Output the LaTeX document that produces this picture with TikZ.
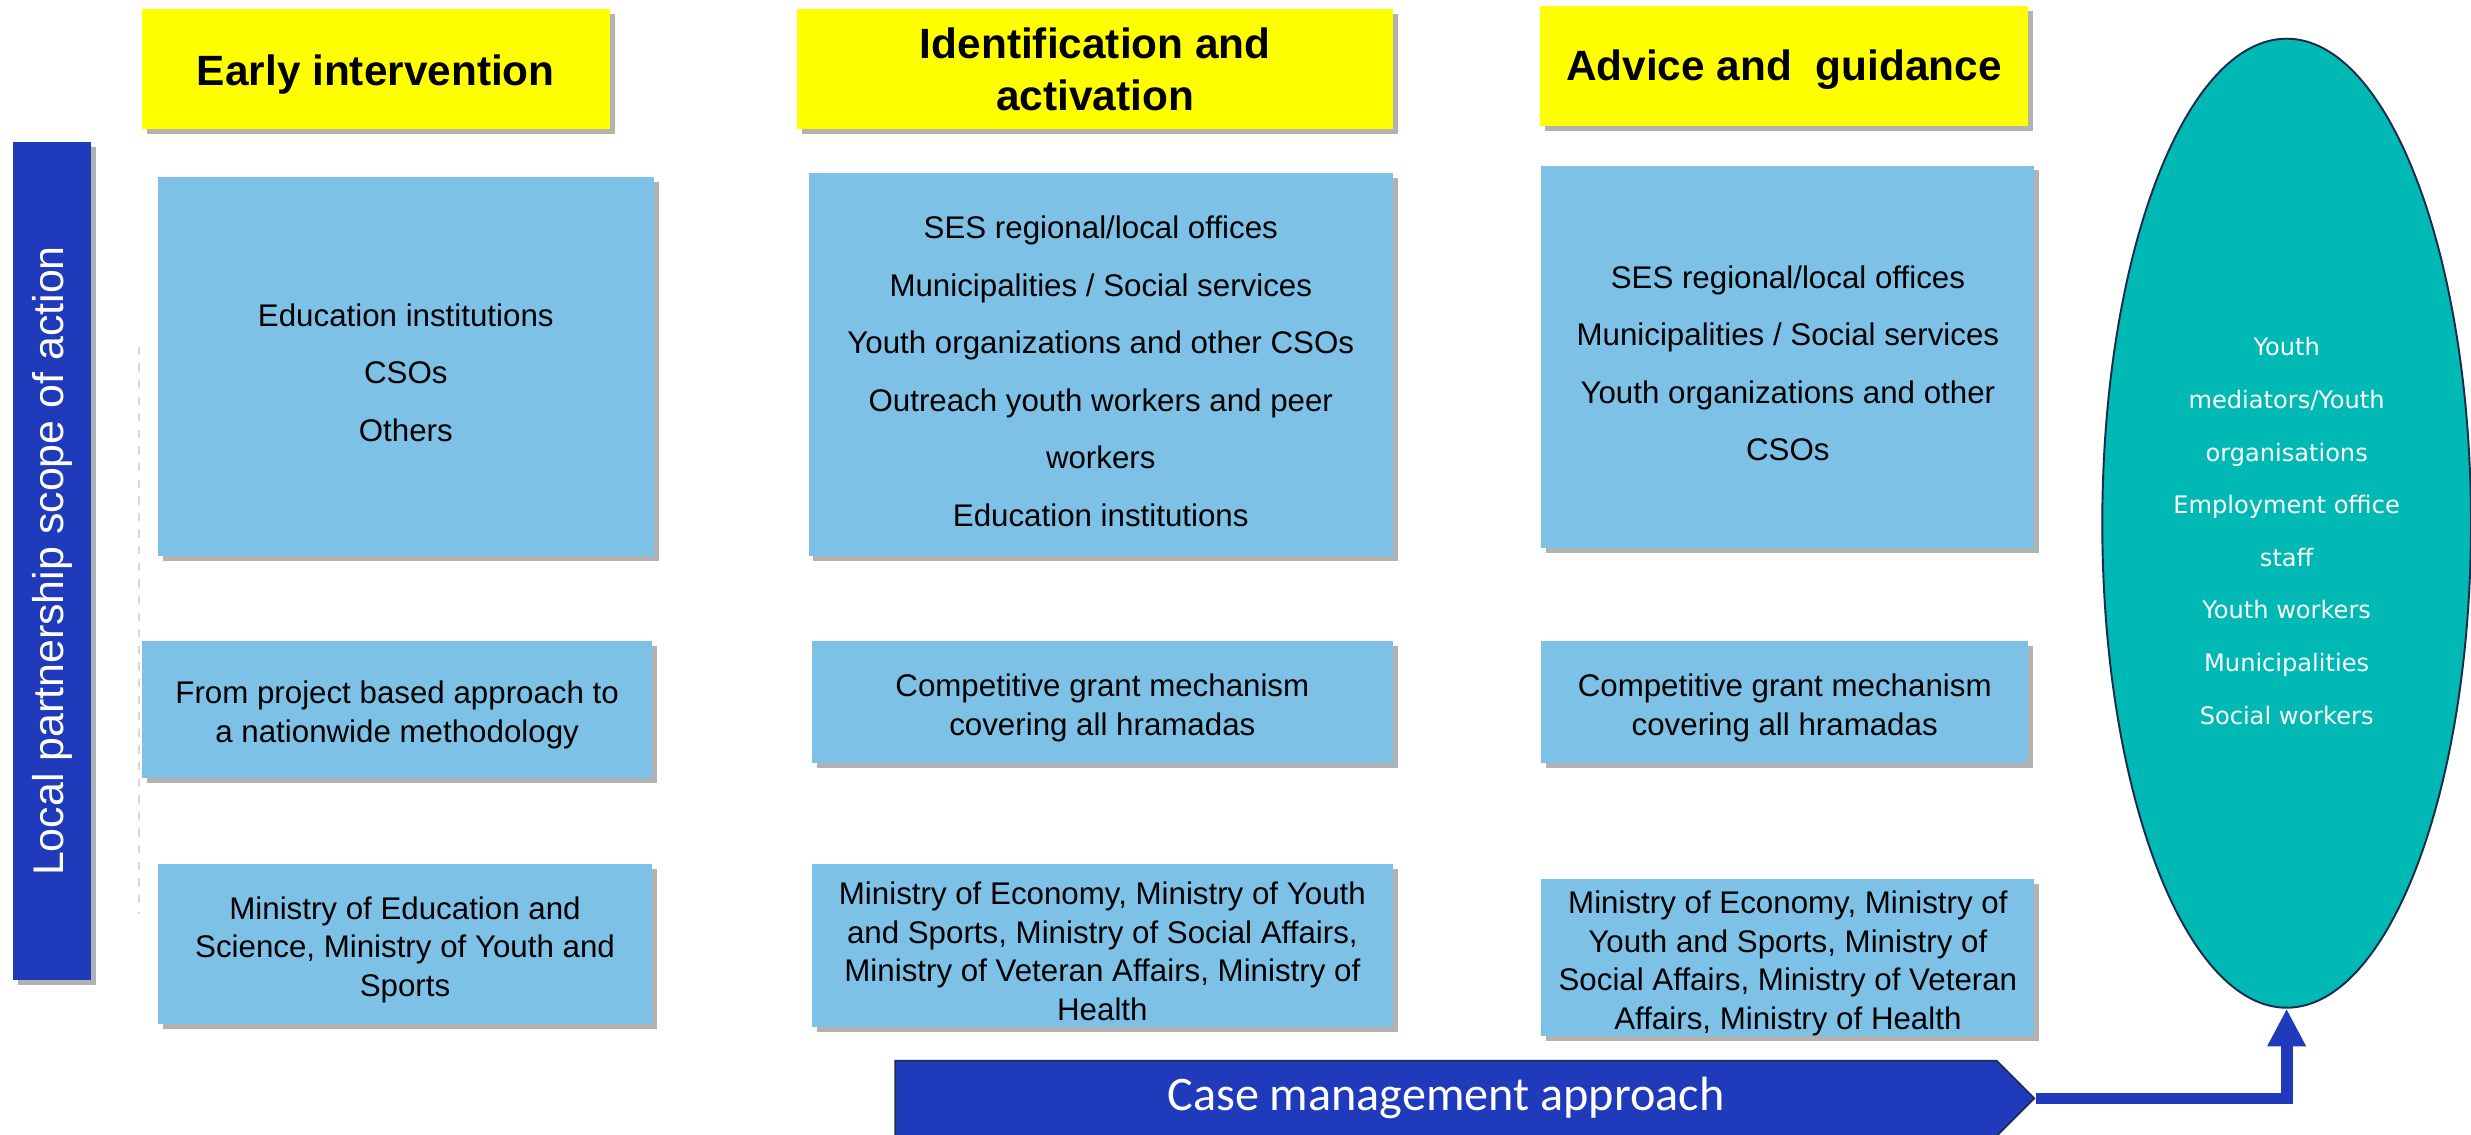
\documentclass[tikz,border=0pt]{standalone}
\usepackage{fontspec}
\setmainfont{Liberation Sans}
\newfontfamily\ovalfont{DejaVu Sans}
\newfontfamily\casefont{Carlito}
\usepackage{tikz}
\usetikzlibrary{arrows.meta, positioning, shapes.geometric, shapes.symbols, shadows}
\definecolor{headyellow}{RGB}{255, 255, 0}
\definecolor{actorblue}{RGB}{125, 193, 230}
\definecolor{scopeblue}{RGB}{31, 58, 187}
\definecolor{ovalteal}{RGB}{0, 185, 181}
\definecolor{navyline}{RGB}{26, 43, 76}
% room above the first line, as in the slide
\newcommand{\topgap}[1]{\rule{0pt}{#1}}

\tikzset{
    softshadow/.style={drop shadow={shadow xshift=1.8pt, shadow yshift=-1.8pt, fill=black, opacity=0.3}},
    headbox/.style={fill=headyellow, minimum height=1.52cm, inner sep=0pt, align=center,
        font=\fontsize{15.3}{18.8}\selectfont\bfseries, softshadow},
    actorbox/.style={fill=actorblue, inner sep=0pt, align=center,
        font=\fontsize{11.3}{13.9}\selectfont, softshadow},
    listbox/.style={actorbox, font=\fontsize{11.3}{20.75}\selectfont},
}

\begin{document}
\begin{tikzpicture}[x=0.02cm, y=-0.02cm]
\useasboundingbox (0,0) rectangle (1568,720);

% column headers
\node (earlyhead) [headbox, minimum width=5.94cm] at (238.5,44) {\topgap{14.6pt}Early intervention};
\node (identhead) [headbox, minimum width=7.56cm] at (695,44) {Identification and\\activation};
\node (advicehead) [headbox, minimum width=6.2cm] at (1132,42) {\topgap{13.6pt}Advice and\ \ guidance};

% scope bar
\node (scope) [fill=scopeblue, text=white, minimum width=1cm, minimum height=10.64cm, inner sep=0pt,
    font=\fontsize{15.5}{18}\selectfont, softshadow] at (33,356)
    {\rotatebox{90}{Local partnership scope of action}};
\draw[dashed, gray!30, line width=0.6pt] (88,220) -- (88,580);

% local actors
\node (earlyact) [listbox, minimum width=6.3cm, minimum height=4.82cm] at (257.5,232.5)
    {\topgap{12.8pt}Education institutions\\CSOs\\Others};
\node (identact) [listbox, minimum width=7.42cm, minimum height=4.86cm] at (698.5,231.5)
    {\topgap{12.8pt}SES regional/local offices\\Municipalities / Social services\\Youth organizations and other CSOs\\
     Outreach youth workers and peer\\workers\\Education institutions};
\node (adviceact) [listbox, minimum width=6.26cm, minimum height=4.86cm] at (1134.5,226.5)
    {\topgap{12.8pt}SES regional/local offices\\Municipalities / Social services\\Youth organizations and other\\CSOs};

% approach
\node (earlyway) [actorbox, minimum width=6.48cm, minimum height=1.74cm] at (252,450.5)
    {\topgap{11.8pt}From project based approach to\\a nationwide methodology};
\node (identway) [actorbox, minimum width=7.38cm, minimum height=1.54cm] at (699.5,445.5)
    {\topgap{12.3pt}Competitive grant mechanism\\covering all hramadas};
\node (adviceway) [actorbox, minimum width=6.18cm, minimum height=1.54cm] at (1132.5,445.5)
    {\topgap{12.3pt}Competitive grant mechanism\\covering all hramadas};

% ministries
\node (earlymin) [actorbox, minimum width=6.28cm, minimum height=2.04cm] at (257,599)
    {\topgap{12.3pt}Ministry of Education and\\Science, Ministry of Youth and\\Sports};
\node (identmin) [actorbox, minimum width=7.38cm, minimum height=2.08cm] at (699.5,600)
    {\topgap{12.3pt}Ministry of Economy, Ministry of Youth\\and Sports, Ministry of Social Affairs,\\
     Ministry of Veteran Affairs, Ministry of\\Health};
\node (advicemin) [actorbox, minimum width=6.26cm, minimum height=1.98cm] at (1134.5,607.5)
    {\topgap{12.5pt}Ministry of Economy, Ministry of\\Youth and Sports, Ministry of\\
     Social Affairs, Ministry of Veteran\\Affairs, Ministry of Health};

% case workers
\node (youth) [ellipse, fill=ovalteal, draw=navyline, line width=0.7pt, inner sep=0pt,
    minimum width=4.68cm, minimum height=12.3cm, text=white, align=center,
    font=\ovalfont\fontsize{8.7}{19}\selectfont] at (1451,332)
    {\topgap{12.2pt}Youth\\mediators/Youth\\organisations\\Employment office\\staff\\Youth workers\\Municipalities\\Social workers};

\node (case) [signal, signal to=east, signal pointer angle=90, fill=scopeblue, draw=navyline,
    line width=0.6pt, text=white, minimum width=14.46cm, minimum height=0.96cm, inner sep=0pt,
    font=\casefont\fontsize{17.4}{20}\selectfont] at (917.5,697) {Case management approach};

\draw[scopeblue, line width=0.15cm, -{Triangle[width=0.46cm, length=0.48cm]}]
    (case.east) -| (youth.south);
\end{tikzpicture}
\end{document}
